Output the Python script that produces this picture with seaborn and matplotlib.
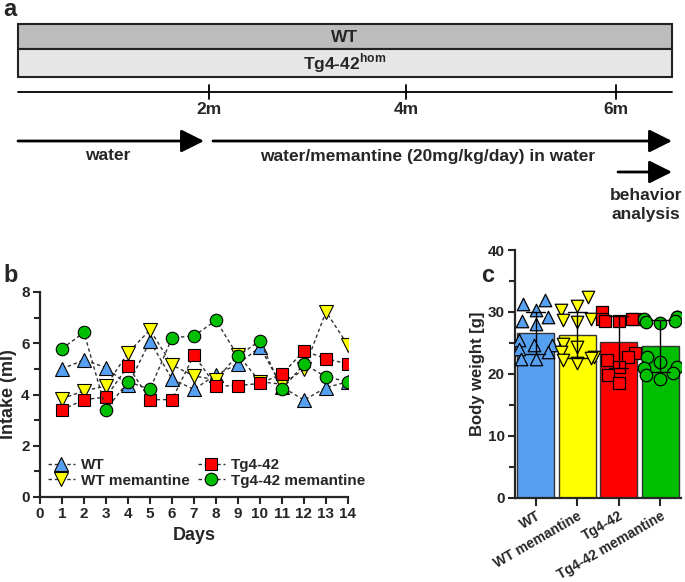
import numpy as np
import pandas as pd
import matplotlib
matplotlib.use("Agg")
import matplotlib.pyplot as plt
from matplotlib.patches import Rectangle
import seaborn as sns

# ---------------- data ----------------
days = list(range(1, 15))
intake_wt = [5.0, 5.35, 5.05, 4.37, 6.08, 4.6, 4.2, 4.77, 5.19, 5.85, 4.3, 3.78, 4.27, 4.5]
intake_wt_mem = [3.84, 4.14, 4.33, 5.63, 6.52, 5.15, 4.72, 4.58, 5.55, 4.5, 4.4, 4.98, 7.23, 5.92]
intake_tg = [3.4, 3.8, 3.9, 5.11, 3.8, 3.8, 5.54, 4.33, 4.35, 4.43, 4.8, 5.7, 5.4, 5.19]
intake_tg_mem = [5.79, 6.42, 3.41, 4.5, 4.2, 6.21, 6.29, 6.89, 5.5, 6.1, 4.2, 5.19, 4.69, 4.5]

groups = ["WT", "WT memantine", "Tg4-42", "Tg4-42 memantine"]
bw_wt = [32.0, 31.2, 30.3, 29.2, 28.6, 28.0, 25.4, 24.6, 24.6, 24.0, 22.4, 22.4, 23.6]
bw_wt_mem = [32.4, 30.9, 30.3, 28.8, 28.7, 28.4, 24.9, 24.3, 23.5, 22.7, 22.5, 22.2, 21.7]
bw_tg = [30.0, 28.9, 28.8, 28.8, 28.6, 28.6, 23.3, 22.7, 22.3, 21.1, 19.8, 18.5]
bw_tg_mem = [29.2, 29.1, 28.9, 28.5, 28.4, 28.2, 22.7, 21.9, 21.1, 20.1, 21.0, 19.8, 19.2]

timeline_ticks = ["2m", "4m", "6m"]

# ---------------- style ----------------
sns.set_style("ticks")
plt.rcParams["font.family"] = ["Liberation Sans", "DejaVu Sans"]
plt.rcParams["font.weight"] = "bold"
plt.rcParams["axes.labelweight"] = "bold"
plt.rcParams["mathtext.fontset"] = "custom"
plt.rcParams["mathtext.bf"] = "Liberation Sans:bold"
plt.rcParams["mathtext.rm"] = "Liberation Sans:bold"

colors = {"WT": "#56a0f2", "WT memantine": "#ffff00",
          "Tg4-42": "#ff0000", "Tg4-42 memantine": "#00bf00"}
markers = {"WT": "^", "WT memantine": "v", "Tg4-42": "s", "Tg4-42 memantine": "o"}
msizes = {"WT": 9.5, "WT memantine": 9.5, "Tg4-42": 8.5, "Tg4-42 memantine": 9}

W, H = 685, 582
fig = plt.figure(figsize=(W / 100, H / 100), dpi=100)

# ---------------- panel a (schematic) ----------------
FA = 12.5
axa = fig.add_axes([0, 0, 1, 1])
axa.set_xlim(0, W)
axa.set_ylim(H, 0)
axa.axis("off")
axa.add_patch(Rectangle((18, 24), 654, 25, facecolor="#bdbdbd", edgecolor="#222222", lw=1.5))
axa.add_patch(Rectangle((18, 49), 654, 28, facecolor="#e6e6e6", edgecolor="#222222", lw=1.5))
axa.text(345, 37, "WT", ha="center", va="center", fontsize=FA, fontweight="bold")
axa.text(345, 63, r"Tg4-42$^{\mathbf{hom}}$", ha="center", va="center", fontsize=FA, fontweight="bold")
axa.plot([18, 672], [91.5, 91.5], color="black", lw=1.3)
for xt, lab in zip([209, 406, 616], timeline_ticks):
    axa.plot([xt, xt], [85, 99], color="black", lw=1.3)
    axa.text(xt, 109, lab, ha="center", va="center", fontsize=FA, fontweight="bold")
arrow_kw = dict(arrowstyle="-|>,head_length=0.7,head_width=0.35", lw=2, color="black",
                mutation_scale=20, shrinkA=0, shrinkB=0)
axa.annotate("", xy=(204, 141), xytext=(18, 141), arrowprops=arrow_kw)
axa.annotate("", xy=(672, 141), xytext=(213, 141), arrowprops=arrow_kw)
axa.annotate("", xy=(672, 172), xytext=(618, 172), arrowprops=arrow_kw)
axa.text(108, 156, "water", ha="center", va="center", fontsize=FA, fontweight="bold")
axa.text(428, 156, "water/memantine (20mg/kg/day) in water", ha="center", va="center",
         fontsize=FA, fontweight="bold")
axa.text(646, 196, "behavior", ha="center", va="center", fontsize=FA, fontweight="bold")
axa.text(646, 215, "analysis", ha="center", va="center", fontsize=FA, fontweight="bold")
axa.text(3, 10, "a", ha="left", va="center", fontsize=17, fontweight="bold")
axa.text(3, 275, "b", ha="left", va="center", fontsize=17, fontweight="bold")
axa.text(481, 275, "c", ha="left", va="center", fontsize=17, fontweight="bold")

# ---------------- panel b (intake) ----------------
axb = fig.add_axes([40 / W, 1 - 497 / H, 308 / W, 205 / H])
series = [intake_wt, intake_wt_mem, intake_tg, intake_tg_mem]
for g, vals in zip(groups, series):
    df = pd.DataFrame({"day": days, "intake": vals})
    sns.lineplot(data=df, x="day", y="intake", ax=axb, color="#333333",
                 linestyle=(0, (2.5, 2)), lw=1.0, marker=markers[g], markersize=msizes[g],
                 markerfacecolor=colors[g], markeredgecolor="black", markeredgewidth=0.8,
                 label=g, legend=False)
axb.set_xlim(0, 14)
axb.set_ylim(0, 8)
axb.set_xticks(range(0, 15))
axb.set_yticks([0, 2, 4, 6, 8])
axb.set_yticks([1, 3, 5, 7], minor=True)
axb.set_xlabel("Days", fontsize=13, fontweight="bold")
axb.set_ylabel("Intake (ml)", fontsize=13, fontweight="bold", labelpad=3)
for lab in axb.get_xticklabels() + axb.get_yticklabels():
    lab.set_fontweight("bold")
    lab.set_fontsize(11)
sns.despine(ax=axb)
for sp in ["left", "bottom"]:
    axb.spines[sp].set_linewidth(1.6)
axb.tick_params(which="major", length=5, width=1.5, pad=2.5)
axb.tick_params(which="minor", length=4, width=1.5)
leg = axb.legend(loc="lower left", bbox_to_anchor=(-0.005, 0.0), ncol=2, frameon=False,
                 fontsize=11, handlelength=1.8, columnspacing=0.5, labelspacing=0.12,
                 handletextpad=0.4, borderaxespad=0.2)
for t in leg.get_texts():
    t.set_fontweight("bold")

# ---------------- panel c (body weight) ----------------
axc = fig.add_axes([515 / W, 1 - 497.7 / H, 166 / W, 247.7 / H])
bw = pd.DataFrame({
    "group": sum([[g] * len(v) for g, v in zip(groups, [bw_wt, bw_wt_mem, bw_tg, bw_tg_mem])], []),
    "weight": bw_wt + bw_wt_mem + bw_tg + bw_tg_mem,
})
sns.barplot(data=bw, x="group", y="weight", order=groups, hue="group", hue_order=groups,
            palette=colors, saturation=1, errorbar="sd", capsize=0.45, width=0.89, ax=axc,
            legend=False, edgecolor="#333333", linewidth=1.0,
            err_kws={"color": "black", "linewidth": 1.0})
for g in groups:
    sub = bw[bw["group"] == g]
    sns.swarmplot(data=sub, x="group", y="weight", order=groups, ax=axc,
                  marker=markers[g], color=colors[g], edgecolor="black", linewidth=0.9,
                  size=9 if g != "Tg4-42" else 8.5, zorder=3)
for ln in axc.lines:
    ln.set_zorder(5)
axc.set_xlim(-0.5, 3.5)
axc.set_ylim(0, 40)
axc.set_yticks([0, 10, 20, 30, 40])
axc.set_yticks([5, 15, 25, 35], minor=True)
axc.set_xlabel("")
axc.set_ylabel("Body weight [g]", fontsize=12, fontweight="bold", labelpad=2)
axc.set_xticks(range(4))
axc.set_xticklabels(groups, rotation=30, ha="right", rotation_mode="anchor",
                    fontsize=10, fontweight="bold")
for lab in axc.get_yticklabels():
    lab.set_fontweight("bold")
    lab.set_fontsize(11)
sns.despine(ax=axc)
for sp in ["left", "bottom"]:
    axc.spines[sp].set_linewidth(1.6)
axc.tick_params(which="major", length=5, width=1.5, pad=2.5)
axc.tick_params(which="minor", length=4, width=1.5)
axc.tick_params(axis="x", length=6, pad=2)

fig.savefig("out.png", dpi=100)
